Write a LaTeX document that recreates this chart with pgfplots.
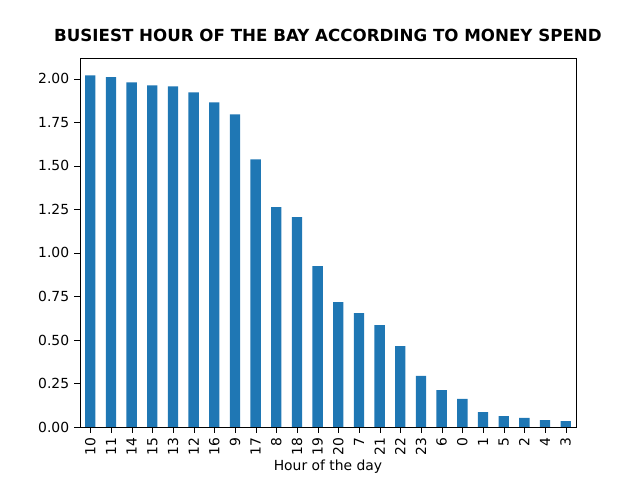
\documentclass[border=0pt]{standalone}
\usepackage{pgfplots}
\pgfplotsset{compat=1.18}
\usepackage{fontspec}
\setmainfont{DejaVu Sans}
\definecolor{mplblue}{HTML}{1F77B4}
\begin{document}
\begin{tikzpicture}
\useasboundingbox (-57.6pt,-38.16pt) rectangle (403.2pt,307.44pt);
\begin{axis}[
  scale only axis, width=357.12pt, height=265.7pt,
  xmin=-0.5, xmax=23.5, ymin=0, ymax=2.12,
  ybar, bar width=0.5,
  xtick=data,
  xticklabels={10,11,14,15,13,12,16,9,17,8,18,19,20,7,21,22,23,6,0,1,5,2,4,3},
  x tick label style={rotate=90, anchor=east},
  ytick={0,0.25,0.5,0.75,1,1.25,1.5,1.75,2},
  yticklabels={0.00,0.25,0.50,0.75,1.00,1.25,1.50,1.75,2.00},
  tick style={black}, tick align=outside,
  xtick pos=bottom, ytick pos=left,
  /pgf/number format/assume math mode=true,
  ticklabel style={font=\fontsize{10}{12}\selectfont},
  xlabel={Hour of the day}, xlabel style={font=\fontsize{10}{12}\selectfont, yshift=4pt},
  title={\bfseries BUSIEST HOUR OF THE BAY ACCORDING TO MONEY SPEND},
  title style={font=\fontsize{12}{14}\selectfont, yshift=2pt},
  axis line style={black},
]
\addplot[fill=mplblue, draw=none] coordinates {
(0,2.02)(1,2.01)(2,1.98)(3,1.963)(4,1.957)(5,1.923)(6,1.865)(7,1.796)(8,1.538)(9,1.263)(10,1.205)(11,0.924)(12,0.717)(13,0.654)(14,0.585)(15,0.465)(16,0.293)(17,0.212)(18,0.161)(19,0.086)(20,0.063)(21,0.052)(22,0.040)(23,0.034)};
\node[anchor=south west, font=\fontsize{10}{12}\selectfont, inner sep=1pt] at (rel axis cs:0,1) {1e7};
\end{axis}
\end{tikzpicture}
\end{document}
